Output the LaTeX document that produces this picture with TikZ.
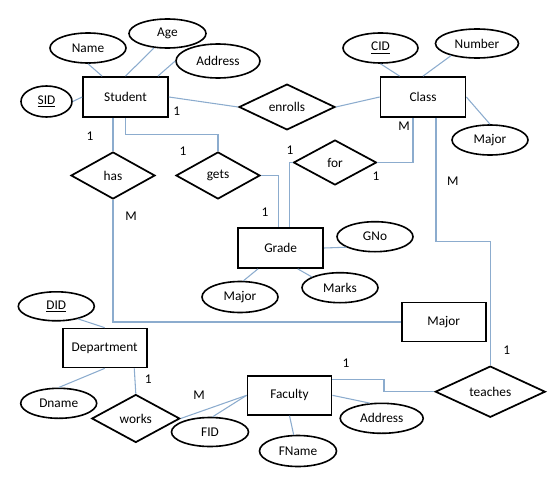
\documentclass[tikz,border=0pt]{standalone}
\usepackage{fontspec}
\setmainfont{Carlito}
\usetikzlibrary{shapes.geometric,calc}
\definecolor{connc}{RGB}{140,172,206}
\begin{document}
\begin{tikzpicture}[x=0.75pt,y=-0.75pt,font=\fontsize{10}{12}\selectfont,
  sz/.style 2 args={minimum width=#1*0.75pt,minimum height=#2*0.75pt},
  ent/.style={draw,line width=1.3pt,rectangle,inner sep=0pt},
  att/.style={draw,line width=1.2pt,ellipse,inner sep=0pt},
  rel/.style={draw,line width=1.3pt,diamond,inner sep=0pt},
  conn/.style={draw=connc,line width=0.8pt},
  card/.style={inner sep=0pt}]
\useasboundingbox (0,0) rectangle (556,478);
% entities
\node[ent,sz={85}{40}] (Student) at (125.5,97) {Student};
\node[ent,sz={85}{40}] (Class) at (423,97) {Class};
\node[ent,sz={85}{40}] (Grade) at (280.7,248) {Grade};
\node[ent,sz={84}{39}] (MajorE) at (443.7,322) {Major};
\node[ent,sz={84}{39}] (Dept) at (104.7,348) {Department};
\node[ent,sz={84}{39}] (Faculty) at (289.5,395.3) {Faculty};
% attributes
\node[att,sz={76}{30}] (Name) at (88,48) {Name};
\node[att,sz={77}{29}] (Age) at (167.5,33.5) {Age};
\node[att,sz={84}{34}] (Address) at (218,61) {Address};
\node[att,sz={51}{31}] (SID) at (46.5,101.5) {\underline{SID}};
\node[att,sz={75}{30}] (CID) at (380.5,48) {\underline{CID}};
\node[att,sz={83}{29}] (Number) at (477,43.5) {Number};
\node[att,sz={76}{30}] (MajorC) at (490,140) {Major};
\node[att,sz={76}{30}] (GNo) at (375,236.7) {GNo};
\node[att,sz={76}{30}] (Marks) at (340,287.7) {Marks};
\node[att,sz={76}{31}] (MajorG) at (240,297) {Major};
\node[att,sz={76}{29}] (DID) at (56.3,306.3) {\underline{DID}};
\node[att,sz={76}{30}] (Dname) at (58.7,403.3) {Dname};
\node[att,sz={77}{29}] (FID) at (210,432) {FID};
\node[att,sz={83}{30}] (AddressF) at (381.7,418.3) {Address};
\node[att,sz={77}{31}] (FName) at (298,451) {FName};
% relationships
\node[rel,sz={96}{40}] (enrolls) at (287,107) {enrolls};
\node[rel,sz={83}{45}] (for) at (335,162.5) {for};
\node[rel,sz={84}{47}] (has) at (113,175.5) {has};
\node[rel,sz={84}{47}] (gets) at (218,175.5) {gets};
\node[rel,sz={88}{48}] (works) at (135.8,418.5) {works};
\node[rel,sz={110}{49}] (teaches) at (490.3,391.7) {teaches};
% bend coordinate
\coordinate (cb) at (490.3,241.7);
% attribute connectors
\draw[conn] (Name.south) -- ($(Student.north west)+(20,0)$);
\draw[conn] (Age.-133) -- (Student.north);
\draw[conn] (Address.west) -- ($(Student.north east)+(-11,0)$);
\draw[conn] (SID.east) -- (Student.west);
\draw[conn] (CID.south) -- ($(Class.north west)+(20,0)$);
\draw[conn] (Number.-155) -- (Class.north);
\draw[conn] (Class.east) -- (MajorC.north);
\draw[conn] (Grade.east) -- (GNo.200);
\draw[conn] ($(Grade.south)+(17,0)$) -- (Marks.159);
\draw[conn] ($(Grade.south)+(-22.7,0)$) -- (MajorG.78);
\draw[conn] (DID.-30) -- (Dept.north);
\draw[conn] (Dname.north) -- (Dept.south);
\draw[conn] (Faculty.west) -- (FID.80);
\draw[conn] (Faculty.east) -- (AddressF.128);
\draw[conn] (Faculty.south) -- (FName.105);
% relationship connectors
\draw[conn] (Student.east) -- (enrolls.west);
\draw[conn] (enrolls.east) -- (Class.west);
\draw[conn] (has.north |- Student.south) -- (has.north);
\draw[conn] (Student.south) -- ++(0,17) -| (gets.north);
\draw[conn] (gets.east) -| ($(Grade.north)+(-2,0)$);
\draw[conn] (for.west) -| ($(Grade.north)+(9,0)$);
\draw[conn] (for.east) -| ($(Class.south)+(-10,0)$);
\draw[conn] ($(Class.south)+(13,0)$) |- (cb) -- (teaches.north);
\draw[conn] (has.south) |- (MajorE.west);
\draw[conn] ($(Dept.south east)+(-13.3,0)$) -- (works.north);
\draw[conn] (works.east) -- (Faculty.west);
\draw[conn] ($(Faculty.east)+(0,-16)$) -- ++(51.6,0) |- (teaches.west);
% cardinalities
\node[card] (c1) at (176.7,111.7) {1};
\node[card] (c2) at (404,126) {M};
\node[card] (c3) at (90,136.7) {1};
\node[card] (c4) at (183,151.7) {1};
\node[card] (c5) at (290,150) {1};
\node[card] (c6) at (376,176) {1};
\node[card] (c7) at (452.7,181.7) {M};
\node[card] (c8) at (131,216.7) {M};
\node[card] (c9) at (265,212.7) {1};
\node[card] (c10) at (148.3,379.3) {1};
\node[card] (c11) at (199,395) {M};
\node[card] (c12) at (346,363.3) {1};
\node[card] (c13) at (506.7,350.7) {1};
\end{tikzpicture}
\end{document}
